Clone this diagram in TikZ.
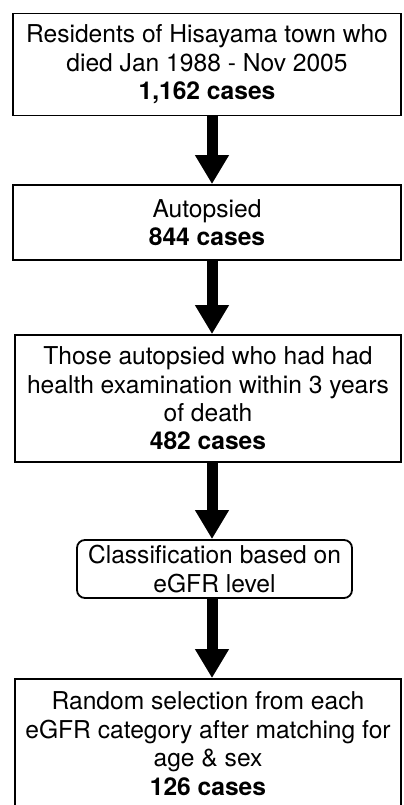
\documentclass[tikz,border=0pt]{standalone}
\usepackage{fontspec}
\setmainfont{TeX Gyre Heros}
\usetikzlibrary{arrows.meta,positioning}

\tikzset{
  stagebox/.style={draw,line width=0.9pt,align=center,inner sep=0pt,
    font=\fontsize{12.3pt}{14.2pt}\selectfont},
  flow/.style={line width=5.5pt,-{Triangle[width=16pt,length=14.5pt]}},
}

\begin{document}
\begin{tikzpicture}[x=0.5pt,y=-0.5pt]
        \clip (0,0) rectangle (403,805);
        \coordinate (ax) at (212,0);
        \node[stagebox,minimum width=194pt,minimum height=51pt] (res) at (207,64.5) {Residents of Hisayama town who\\died Jan 1988 - Nov 2005\\\textbf{1,162 cases}};
        \node[stagebox,minimum width=194pt,minimum height=37.5pt] (aut) at (207,222.5) {Autopsied\\\textbf{844 cases}};
        \node[stagebox,minimum width=193pt,minimum height=63.5pt] (exam) at (208,398.5) {Those autopsied who had had\\health examination within 3 years\\of death\\\textbf{482 cases}};
        \node[stagebox,rounded corners=4pt,minimum width=137.5pt,minimum height=29pt] (cls) at (214.5,569) {Classification based on\\eGFR level};
        \node[stagebox,minimum width=193pt,minimum height=64.5pt] (sel) at (208,743.5) {Random selection from each\\eGFR category after matching for\\age \& sex\\\textbf{126 cases}};
        % arrows between stages
        \draw[flow] (res.south -| ax) -- (aut.north -| ax);
        \draw[flow] (aut.south -| ax) -- (exam.north -| ax);
        \draw[flow] (exam.south -| ax) -- (cls.north -| ax);
        \draw[flow] (cls.south -| ax) -- (sel.north -| ax);
\end{tikzpicture}
\end{document}
